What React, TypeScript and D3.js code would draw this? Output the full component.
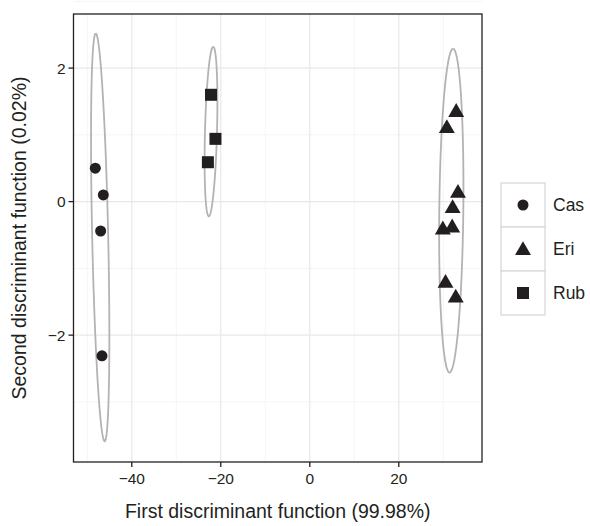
import * as d3 from 'd3';

const cas = [[-48.2, 0.5], [-46.4, 0.1], [-47.0, -0.44], [-46.7, -2.31]];
const eri = [[32.9, 1.36], [30.8, 1.12], [33.3, 0.15], [32.1, -0.08], [29.9, -0.4], [32.0, -0.37], [30.5, -1.2], [32.8, -1.42]];
const rub = [[-22.2, 1.6], [-21.2, 0.94], [-22.9, 0.59]];
// ellipse: top point, bottom point, half width (x units)
const ellipses = [
  { top: [-48.1, 2.52], bottom: [-46.1, -3.59], hw: 1.8 },
  { top: [-21.7, 2.32], bottom: [-22.7, -0.22], hw: 1.35 },
  { top: [32.2, 2.29], bottom: [31.4, -2.56], hw: 2.7 },
];
const xTicks = [-40, -20, 0, 20];
const yTicks = [2, 0, -2];
const xMinor = [-50, -30, -10, 10, 30];
const yMinor = [3, 1, -1, -3];
const groups = ['Cas', 'Eri', 'Rub'];

const L = 73.5, R = 482, T = 14, B = 462;
const x = d3.scaleLinear().domain([-53.1, 38.7]).range([L, R]);
const y = d3.scaleLinear().domain([-3.9, 2.81]).range([B, T]);
const font = 'Helvetica, Arial, "Liberation Sans", sans-serif';

function ellipsePath(e: { top: number[]; bottom: number[]; hw: number }) {
  const tx = x(e.top[0]), ty = y(e.top[1]), bx = x(e.bottom[0]), by = y(e.bottom[1]);
  const cx = (tx + bx) / 2, cy = (ty + by) / 2;
  const mx = (tx - bx) / 2, my = (ty - by) / 2;
  const len = Math.hypot(mx, my);
  const w = x(e.hw) - x(0);
  const nx = (-my / len) * w, ny = (mx / len) * w;
  const pts = d3.range(0, 101).map((i) => {
    const t = (i / 100) * 2 * Math.PI;
    return [cx + mx * Math.cos(t) + nx * Math.sin(t), cy + my * Math.cos(t) + ny * Math.sin(t)] as [number, number];
  });
  return d3.line()(pts) || '';
}

const tri = d3.symbol().type(d3.symbolTriangle).size(110)() || '';

function Marker({ g, cx, cy }: { g: string; cx: number; cy: number }) {
  if (g === 'Cas') return <circle cx={cx} cy={cy} r={5.5} fill="#231f20" />;
  if (g === 'Rub') return <rect x={cx - 6} y={cy - 6} width={12} height={12} fill="#231f20" />;
  return <path d={tri} transform={`translate(${cx},${cy + 1.5})`} fill="#231f20" />;
}

export default function App() {
  const data: [string, number[][]][] = [['Cas', cas], ['Rub', rub], ['Eri', eri]];
  return (
    <svg width={590} height={526} style={{ position: 'absolute', left: 0, top: 0 }} fontFamily={font}>
      <rect width={590} height={526} fill="#fff" />
      {xMinor.map((v) => <line key={'xm' + v} x1={x(v)} x2={x(v)} y1={T} y2={B} stroke="#f5f5f5" strokeWidth={1} />)}
      {yMinor.map((v) => <line key={'ym' + v} y1={y(v)} y2={y(v)} x1={L} x2={R} stroke="#f5f5f5" strokeWidth={1} />)}
      {xTicks.map((v) => <line key={'x' + v} x1={x(v)} x2={x(v)} y1={T} y2={B} stroke="#e8e8e8" strokeWidth={1.2} />)}
      {yTicks.map((v) => <line key={'y' + v} y1={y(v)} y2={y(v)} x1={L} x2={R} stroke="#e8e8e8" strokeWidth={1.2} />)}
      {ellipses.map((e, i) => <path key={i} d={ellipsePath(e)} fill="none" stroke="#b3b3b3" strokeWidth={1.8} />)}
      {data.map(([g, pts]) => pts.map((p, i) => <Marker key={g + i} g={g} cx={x(p[0])} cy={y(p[1])} />))}
      <rect x={L} y={T} width={R - L} height={B - T} fill="none" stroke="#231f20" strokeWidth={1.3} />
      {xTicks.map((v) => (
        <g key={'xt' + v}>
          <line x1={x(v)} x2={x(v)} y1={B} y2={B + 5} stroke="#231f20" strokeWidth={1.3} />
          <text x={x(v)} y={B + 22} textAnchor="middle" fontSize={15.5} fill="#231f20">{v < 0 ? '\u2212' + -v : v}</text>
        </g>
      ))}
      {yTicks.map((v) => (
        <g key={'yt' + v}>
          <line x1={L - 5} x2={L} y1={y(v)} y2={y(v)} stroke="#231f20" strokeWidth={1.3} />
          <text x={L - 8} y={y(v) + 5.5} textAnchor="end" fontSize={15.5} fill="#231f20">{v < 0 ? '\u2212' + -v : v}</text>
        </g>
      ))}
      <text x={(L + R) / 2} y={518} textAnchor="middle" fontSize={19.5} fill="#231f20">First discriminant function (99.98%)</text>
      <text transform={`translate(26,${(T + B) / 2}) rotate(-90)`} textAnchor="middle" fontSize={19.5} fill="#231f20">Second discriminant function (0.02%)</text>
      {groups.map((g, i) => (
        <g key={g} transform={`translate(501,${183 + i * 44})`}>
          <rect width={44} height={44} fill="#fff" stroke="#d9d9d9" strokeWidth={1.3} />
          <Marker g={g} cx={22} cy={22} />
          <text x={52} y={28} fontSize={17.5} fill="#231f20">{g}</text>
        </g>
      ))}
    </svg>
  );
}
